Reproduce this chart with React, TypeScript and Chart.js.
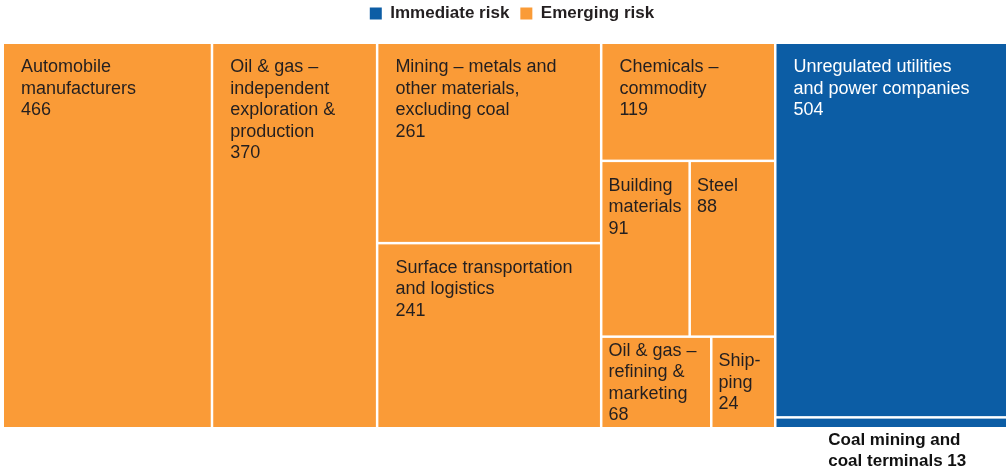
import React, { useEffect, useRef } from "react";
import { Chart, registerables } from "chart.js";

Chart.register(...registerables);

// ---- Data ----
const sectorLabels: string[][] = [
  ["Automobile", "manufacturers"],
  ["Oil & gas –", "independent", "exploration &", "production"],
  ["Mining – metals and", "other materials,", "excluding coal"],
  ["Surface transportation", "and logistics"],
  ["Chemicals –", "commodity"],
  ["Building", "materials"],
  ["Steel"],
  ["Oil & gas –", "refining &", "marketing"],
  ["Ship-", "ping"],
  ["Unregulated utilities", "and power companies"],
  ["Coal mining and", "coal terminals"],
];
const sectorValues: number[] = [466, 370, 261, 241, 119, 91, 88, 68, 24, 504, 13];
const sectorRisk: number[] = [1, 1, 1, 1, 1, 1, 1, 1, 1, 0, 0]; // 0 = immediate, 1 = emerging
const seriesNames: string[] = ["Immediate risk", "Emerging risk"];

// Treemap grouping: columns -> rows (a row may hold several cells side by side)
const treeColumns: (number | number[])[][] = [
  [0],
  [1],
  [2, 3],
  [4, [5, 6], [7, 8]],
  [9, 10],
];

// ---- Styles ----
const seriesColors = ["#0C5DA5", "#FA9B37"];
const textColors = ["#FFFFFF", "#231F20"];
const FONT = '"Liberation Sans", Arial, sans-serif';
const CELL_FONT_SIZE = 18;
const LINE_H = 21.5;
const GAP = 2.5;
const MIN_CELL_W = 64;
const LEGEND_EXTRA = 12;
const LEGEND_SHIFT = 7;

const sum = (arr: number[]) => arr.reduce((a, b) => a + b, 0);
const total = sum(sectorValues);

const legendGapPlugin = {
  id: "legendGap",
  beforeLayout(chart: any) {
    const lg = chart.legend;
    if (lg && !lg._gapPatched) {
      const fit = lg.fit;
      lg.fit = function () {
        fit.call(this);
        this.height += LEGEND_EXTRA;
      };
      lg._gapPatched = true;
    }
  },
  afterLayout(chart: any) {
    const lg = chart.legend;
    if (lg) {
      lg.left += LEGEND_SHIFT * 2;
    }
  },
};

const treemapPlugin = {
  id: "treemapCells",
  afterDatasetsDraw(chart: any) {
    const { ctx, chartArea } = chart;
    const xs = chart.scales.x;
    const ys = chart.scales.y;
    const half = GAP / 2;
    const cells: { i: number; x0: number; x1: number; y0: number; y1: number }[] = [];
    let acc = 0;
    for (const col of treeColumns) {
      const rows = col.map((r) => (Array.isArray(r) ? r : [r]));
      const colSum = sum(rows.map((r) => sum(r.map((i) => sectorValues[i]))));
      const px0 = xs.getPixelForValue(acc);
      const px1 = xs.getPixelForValue(acc + colSum);
      acc += colSum;
      let yacc = 0;
      for (const r of rows) {
        const rowSum = sum(r.map((i) => sectorValues[i]));
        const py0 = ys.getPixelForValue(yacc / colSum);
        const py1 = ys.getPixelForValue((yacc + rowSum) / colSum);
        yacc += rowSum;
        const W = px1 - px0;
        let widths = r.map((i) => (sectorValues[i] / rowSum) * W);
        if (r.length > 1) {
          const small = widths.map((w) => w < MIN_CELL_W);
          const deficit = sum(widths.map((w, k) => (small[k] ? MIN_CELL_W - w : 0)));
          const bigSum = sum(widths.filter((_, k) => !small[k]));
          widths = widths.map((w, k) => (small[k] ? MIN_CELL_W : w - (deficit * w) / bigSum));
        }
        let x = px0;
        r.forEach((i, k) => {
          cells.push({ i, x0: x, x1: x + widths[k], y0: py0, y1: py1 });
          x += widths[k];
        });
      }
    }

    ctx.save();
    for (const c of cells) {
      const l = c.x0 > chartArea.left + 0.5 ? c.x0 + half : c.x0;
      const r = c.x1 < chartArea.right - 0.5 ? c.x1 - half : c.x1;
      const t = c.y0 > chartArea.top + 0.5 ? c.y0 + half : c.y0;
      const b = c.y1 < chartArea.bottom - 0.5 ? c.y1 - half : c.y1;
      const risk = sectorRisk[c.i];
      ctx.fillStyle = seriesColors[risk];
      ctx.fillRect(l, t, r - l, b - t);

      const w = r - l;
      const h = b - t;
      const lines = [...sectorLabels[c.i]];
      ctx.textBaseline = "top";
      ctx.textAlign = "left";
      if (h < lines.length * LINE_H) {
        // label outside, below the chart
        const outLines = [...lines];
        outLines[outLines.length - 1] = outLines[outLines.length - 1] + " " + sectorValues[c.i];
        ctx.font = `bold 17px ${FONT}`;
        ctx.fillStyle = "#111111";
        const bw = Math.max(...outLines.map((s) => ctx.measureText(s).width));
        const cx = (l + r) / 2 + 6;
        outLines.forEach((s, k) => {
          ctx.fillText(s, cx - bw / 2, chartArea.bottom + 5 + k * 21);
        });
        continue;
      }
      lines.push(String(sectorValues[c.i]));
      ctx.font = `${CELL_FONT_SIZE}px ${FONT}`;
      ctx.fillStyle = textColors[risk];
      const padX = w > 150 ? 17 : 6;
      const padY = Math.max(1, Math.min(12, (h - lines.length * LINE_H) / 2));
      lines.forEach((s, k) => {
        ctx.fillText(s, l + padX, t + padY + k * LINE_H + 2.5);
      });
    }
    ctx.restore();
  },
};

export default function App() {
  const ref = useRef<HTMLCanvasElement | null>(null);
  useEffect(() => {
    document.body.style.margin = "0";
    if (!ref.current) return;
    const chart = new Chart(ref.current, {
      type: "scatter",
      data: {
        datasets: seriesNames.map((name, k) => ({
          label: name,
          data: [],
          backgroundColor: seriesColors[k],
          borderColor: seriesColors[k],
          borderWidth: 0,
        })),
      },
      options: {
        animation: false,
        responsive: false,
        events: [],
        layout: { padding: { left: 4, right: 0, top: -6, bottom: 42 } },
        scales: {
          x: { type: "linear", min: 0, max: total, display: false },
          y: { type: "linear", min: 0, max: 1, reverse: true, display: false },
        },
        plugins: {
          tooltip: { enabled: false },
          legend: {
            display: true,
            position: "top",
            onClick: () => {},
            labels: {
              boxWidth: 12,
              boxHeight: 12,
              padding: 11,
              color: "#231F20",
              font: { family: FONT, size: 17, weight: "bold" },
            },
          },
        },
      },
      plugins: [legendGapPlugin, treemapPlugin],
    });
    return () => chart.destroy();
  }, []);
  return (
    <div style={{ width: 1006, height: 469 }}>
      <canvas ref={ref} width={1006} height={469} />
    </div>
  );
}
